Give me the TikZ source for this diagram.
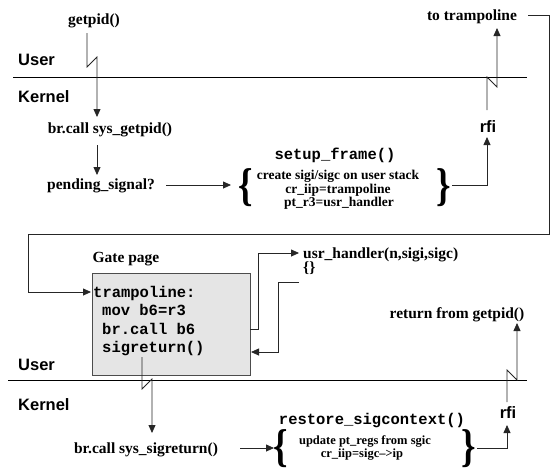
\documentclass[tikz,border=0pt]{standalone}
\usepackage{fontspec}
\setmainfont{Liberation Serif}
\setmonofont{Liberation Mono}
\newfontfamily\arialfam{Liberation Sans}
\usetikzlibrary{arrows.meta}
\begin{document}
\begin{tikzpicture}[x=1pt,y=-1pt,
  lbl/.style={font=\fontsize{15.5}{17}\selectfont\bfseries, inner sep=0pt},
  sml/.style={font=\fontsize{13.5}{15}\selectfont\bfseries, inner sep=0pt},
  smlr/.style={font=\fontsize{12.5}{14}\selectfont\bfseries, inner sep=0pt},
  sans/.style={font=\arialfam\fontsize{16.5}{19}\selectfont\bfseries, inner sep=0pt},
  code/.style={font=\ttfamily\fontsize{15.5}{17}\selectfont\bfseries, inner sep=0pt},
  brc/.style={font=\fontsize{46}{46}\selectfont\bfseries, inner sep=0pt, xscale=0.8},
  wire/.style={line width=0.8pt, draw=black!85},
  arr/.style={wire, -{Triangle[length=8pt,width=7pt]}},
  divider/.style={line width=0.9pt}]

\useasboundingbox (0,0) rectangle (552,472);

% ---------- user / kernel boundaries ----------
\draw[divider] (13,77) -- (527,77);
\draw[divider] (8,380) -- (527,380);
\node[sans, anchor=base west] (user1) at (18,65) {User};
\node[sans, anchor=base west] (kern1) at (18,102) {Kernel};
\node[sans, anchor=base west] (user2) at (18,370) {User};
\node[sans, anchor=base west] (kern2) at (18,410) {Kernel};

% ---------- system call entry ----------
\node[lbl, anchor=base] (getpid) at (94,24) {getpid()};
\node[lbl, anchor=base] (brget) at (110,133) {br.call sys\_getpid()};
\node[lbl, anchor=base] (pend) at (101,189) {pending\_signal?};

\coordinate (gp-a) at (87,33);
\coordinate (gp-b) at (87,67);
\coordinate (gp-c) at (97,57);
\coordinate (bg-in) at (97,117);
\draw[arr] (gp-a) -- (gp-b) -- (gp-c) -- (bg-in);

\coordinate (bg-out) at (97,145);
\coordinate (pd-in) at (97,175);
\draw[arr] (bg-out) -- (pd-in);

% ---------- setup_frame ----------
\node[code, anchor=base] (setup) at (335,159) {setup\_frame()};
\node[sml, anchor=base] (sf1) at (338,179) {create sigi/sigc on user stack};
\node[sml, anchor=base] (sf2) at (338,193) {cr\_iip=trampoline};
\node[sml, anchor=base] (sf3) at (339,206) {pt\_r3=usr\_handler};
\node[brc, anchor=center] (lb1) at (246,188) {\{};
\node[brc, anchor=center] (rb1) at (444,188) {\}};

\coordinate (pd-out) at (166,185);
\coordinate (lb1-in) at (231,185);
\draw[arr] (pd-out) -- (lb1-in);

\node[sans, anchor=base] (rfi1) at (488,132) {rfi};
\coordinate (rb1-tip) at (452,185);
\coordinate (rfi1-in) at (487,137);
\draw[arr] (rb1-tip) -| (rfi1-in);

\node[lbl, anchor=base] (totr) at (472,20) {to trampoline};
\coordinate (rf1-a) at (487,110);
\coordinate (rf1-b) at (487,77);
\coordinate (rf1-c) at (497,87);
\coordinate (totr-in) at (497,28);
\draw[arr] (rf1-a) -- (rf1-b) -- (rf1-c) -- (totr-in);

% ---------- jump back into the gate page ----------
\coordinate (lp-a) at (528,15);
\coordinate (lp-b) at (549,15);
\coordinate (lp-c) at (549,234);
\coordinate (lp-d) at (28,234);
\coordinate (lp-e) at (28,292);
\coordinate (tramp-in) at (91,292);
\draw[arr] (lp-a) -- (lp-b) -- (lp-c) -- (lp-d) -- (lp-e) -- (tramp-in);

% ---------- gate page ----------
\node[lbl, anchor=base] (gatelbl) at (126,262) {Gate page};
\node[draw=black!70, line width=0.8pt, fill=black!10, minimum width=158pt,
      minimum height=102pt, inner sep=0pt, anchor=north west] (gate) at (92,273) {};
\node[code, anchor=base west] (t1) at (93,297) {trampoline:};
\node[code, anchor=base west] (t2) at (102,315) {mov b6=r3};
\node[code, anchor=base west] (t3) at (102,334) {br.call b6};
\node[code, anchor=base west] (t4) at (102,352) {sigreturn()};

\node[lbl, anchor=base west] (uh) at (303,258) {usr\_handler(n,sigi,sigc)};
\node[lbl, anchor=base west] (uhb) at (303,272) {\{\}};

\coordinate (call-a) at (250,329);
\coordinate (call-b) at (258,329);
\coordinate (call-c) at (258,253);
\coordinate (uh-in) at (299,253);
\draw[arr] (call-a) -- (call-b) -- (call-c) -- (uh-in);

\coordinate (ret-a) at (299,282);
\coordinate (ret-b) at (278,282);
\coordinate (ret-c) at (278,352);
\coordinate (sr-in) at (251,352);
\draw[arr] (ret-a) -- (ret-b) -- (ret-c) -- (sr-in);

% ---------- sigreturn path ----------
\node[lbl, anchor=base] (brsig) at (146,453) {br.call sys\_sigreturn()};
\coordinate (sr-a) at (142,357);
\coordinate (sr-b) at (142,389);
\coordinate (sr-c) at (152,379);
\coordinate (brsig-in) at (152,433);
\draw[arr] (sr-a) -- (sr-b) -- (sr-c) -- (brsig-in);

\node[code, anchor=base] (restore) at (372,424) {restore\_sigcontext()};
\node[smlr, anchor=base] (rs1) at (365,444) {update pt\_regs from sgic};
\node[smlr, anchor=base] (rs2) at (362,457) {cr\_iip=sigc–>ip};
\node[brc, anchor=center] (lb2) at (281,449) {\{};
\node[brc, anchor=center] (rb2) at (469,449) {\}};

\coordinate (bs-out) at (240,448);
\coordinate (lb2-in) at (274,448);
\draw[arr] (bs-out) -- (lb2-in);

\node[sans, anchor=base] (rfi2) at (508,418) {rfi};
\coordinate (rb2-tip) at (477,448);
\coordinate (rfi2-in) at (507,425);
\draw[arr] (rb2-tip) -| (rfi2-in);

\node[lbl, anchor=base] (retg) at (457,318) {return from getpid()};
\coordinate (rf2-a) at (507,402);
\coordinate (rf2-b) at (507,370);
\coordinate (rf2-c) at (517,380);
\coordinate (retg-in) at (517,323);
\draw[arr] (rf2-a) -- (rf2-b) -- (rf2-c) -- (retg-in);
\end{tikzpicture}
\end{document}
